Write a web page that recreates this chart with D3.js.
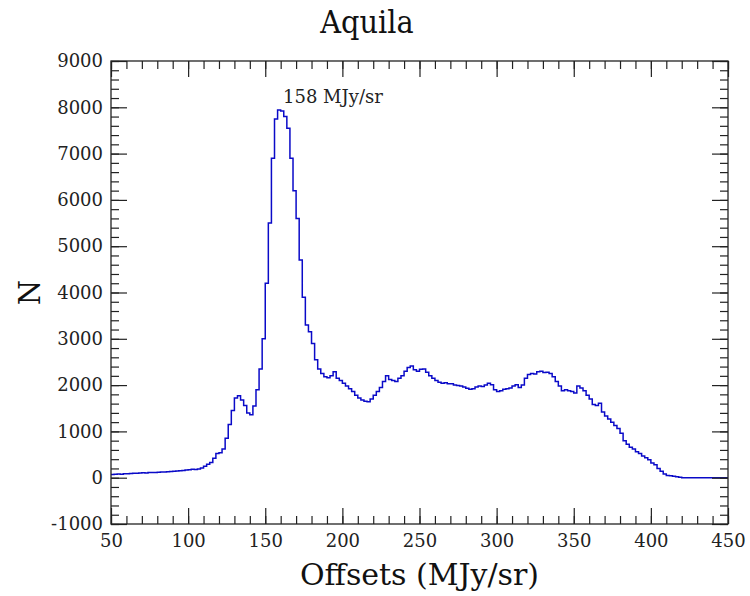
<!DOCTYPE html>
<html>
<head>
<meta charset="utf-8">
<script src="https://cdn.jsdelivr.net/npm/d3@7"></script>
<style>
  body { margin: 0; background: #fff; }
  svg { display: block; }
  .tick text { font-family: "DejaVu Serif", serif; font-size: 18px; fill: #222; }
  .tick line { stroke: #222; stroke-width: 1.2; }
</style>
</head>
<body>
<svg id="chart" width="750" height="596"></svg>
<script>
// histogram of Aquila offsets, 2 MJy/sr bins starting at 50
const binStart = 50;
const binWidth = 2;
const counts = [
  70, 75, 80, 75, 85, 85, 90, 95, 95, 100,            // 50-68
  105, 100, 110, 115, 115, 120, 125, 125, 130, 135,   // 70-88
  140, 145, 150, 155, 165, 170, 180, 175, 190, 210,   // 90-108
  250, 290, 330, 420, 520, 540, 620, 850, 1150, 1450, // 110-128
  1720, 1770, 1680, 1560, 1400, 1360, 1550, 1900, 2350, 3000, // 130-148
  4200, 5500, 6900, 7750, 7940, 7920, 7800, 7550, 6900, 6200, // 150-168
  5600, 4700, 3900, 3300, 3150, 2900, 2550, 2350, 2250, 2180, // 170-188
  2160, 2200, 2290, 2150, 2100, 2040, 1980, 1920, 1860, 1780, // 190-208
  1720, 1680, 1650, 1640, 1700, 1780, 1860, 1950, 2080, 2200, // 210-228
  2120, 2100, 2080, 2150, 2200, 2300, 2380, 2410, 2330, 2300, // 230-248
  2340, 2350, 2280, 2200, 2150, 2100, 2060, 2040, 2050, 2030, // 250-268
  2030, 2000, 1990, 1980, 1960, 1930, 1910, 1920, 1960, 1980, // 270-288
  1970, 2000, 2040, 2010, 1900, 1860, 1880, 1910, 1920, 1940, // 290-308
  1980, 2010, 1950, 2000, 2150, 2230, 2250, 2240, 2290, 2300, // 310-328
  2270, 2280, 2250, 2180, 2080, 1980, 1880, 1900, 1880, 1860, // 330-348
  1830, 1980, 1940, 1880, 1780, 1700, 1580, 1560, 1610, 1420, // 350-368
  1330, 1270, 1200, 1130, 1060, 960, 800, 720, 660, 620,      // 370-388
  560, 520, 470, 430, 390, 320, 280, 200, 140, 80,            // 390-408
  50, 40, 30, 20, 10, 0, 0, 0, 0, 0,                          // 410-428
  0, 0, 0, 0, 0, 0, 0, 0, 0, 0                                // 430-448
];
const xTicks = [50, 100, 150, 200, 250, 300, 350, 400, 450];
const yTicks = [-1000, 0, 1000, 2000, 3000, 4000, 5000, 6000, 7000, 8000, 9000];
const peakLabel = { text: "158 MJy/sr", x: 161.5, y: 8100 };

function init() {
    const svg = d3.select("#chart");
    const margin = { top: 61, right: 22, bottom: 72, left: 111 };
    const width = 750 - margin.left - margin.right;
    const height = 596 - margin.top - margin.bottom;

    const x = d3.scaleLinear().domain([50, 450]).range([0, width]);
    const y = d3.scaleLinear().domain([-1000, 9000]).range([height, 0]);

    const g = svg.append("g").attr("transform", `translate(${margin.left},${margin.top})`);

    // step line
    let pts = counts.map((c, i) => [binStart + i * binWidth, c]);
    pts.push([binStart + counts.length * binWidth, counts[counts.length - 1]]);
    const line = d3.line().x(d => x(d[0])).y(d => y(d[1])).curve(d3.curveStepAfter);
    g.append("path").datum(pts)
        .attr("d", line)
        .attr("fill", "none")
        .attr("stroke", "#0a0ac8")
        .attr("stroke-width", 1.5);

    // axes, ticks pointing inward on all four sides
    const xMinor = d3.range(50, 451, 10);
    const yMinor = d3.range(-1000, 9001, 200);
    const noLabel = () => "";
    const plain = d => String(d);   // keep the ascii hyphen for -1000

    function addAxis(axis, transform) {
        const a = g.append("g").attr("transform", transform).call(axis);
        a.select(".domain").remove();
        return a;
    }
    addAxis(d3.axisBottom(x).tickValues(xMinor).tickSize(-8).tickFormat(noLabel), `translate(0,${height})`);
    addAxis(d3.axisBottom(x).tickValues(xTicks).tickSize(-16).tickPadding(10).tickFormat(plain), `translate(0,${height})`);
    addAxis(d3.axisTop(x).tickValues(xMinor).tickSize(-8).tickFormat(noLabel), "translate(0,0)");
    addAxis(d3.axisTop(x).tickValues(xTicks).tickSize(-16).tickFormat(noLabel), "translate(0,0)");
    addAxis(d3.axisLeft(y).tickValues(yMinor).tickSize(-8).tickFormat(noLabel), "translate(0,0)");
    addAxis(d3.axisLeft(y).tickValues(yTicks).tickSize(-16).tickPadding(8).tickFormat(plain), "translate(0,0)");
    addAxis(d3.axisRight(y).tickValues(yMinor).tickSize(-8).tickFormat(noLabel), `translate(${width},0)`);
    addAxis(d3.axisRight(y).tickValues(yTicks).tickSize(-16).tickFormat(noLabel), `translate(${width},0)`);

    g.append("rect")
        .attr("width", width).attr("height", height)
        .attr("fill", "none").attr("stroke", "#222").attr("stroke-width", 1.3);

    // peak annotation
    g.append("text")
        .attr("x", x(peakLabel.x)).attr("y", y(peakLabel.y))
        .attr("font-family", "DejaVu Serif, serif").attr("font-size", 18)
        .attr("fill", "#222")
        .text(peakLabel.text);

    // title and axis labels
    svg.append("text")
        .attr("transform", "translate(367,33) scale(0.9,1)")
        .attr("text-anchor", "middle")
        .attr("font-family", "DejaVu Serif, serif")
        .attr("font-size", 32).attr("fill", "#111")
        .text("Aquila");
    svg.append("text")
        .attr("x", margin.left + width / 2).attr("y", 585)
        .attr("text-anchor", "middle")
        .attr("font-family", "DejaVu Serif, serif")
        .attr("font-size", 30).attr("fill", "#111")
        .text("Offsets (MJy/sr)");
    svg.append("text")
        .attr("transform", `translate(40,${margin.top + height / 2}) rotate(-90)`)
        .attr("text-anchor", "middle")
        .attr("font-family", "DejaVu Serif, serif")
        .attr("font-size", 29).attr("fill", "#111")
        .text("N");
}

init();
</script>
</body>
</html>
